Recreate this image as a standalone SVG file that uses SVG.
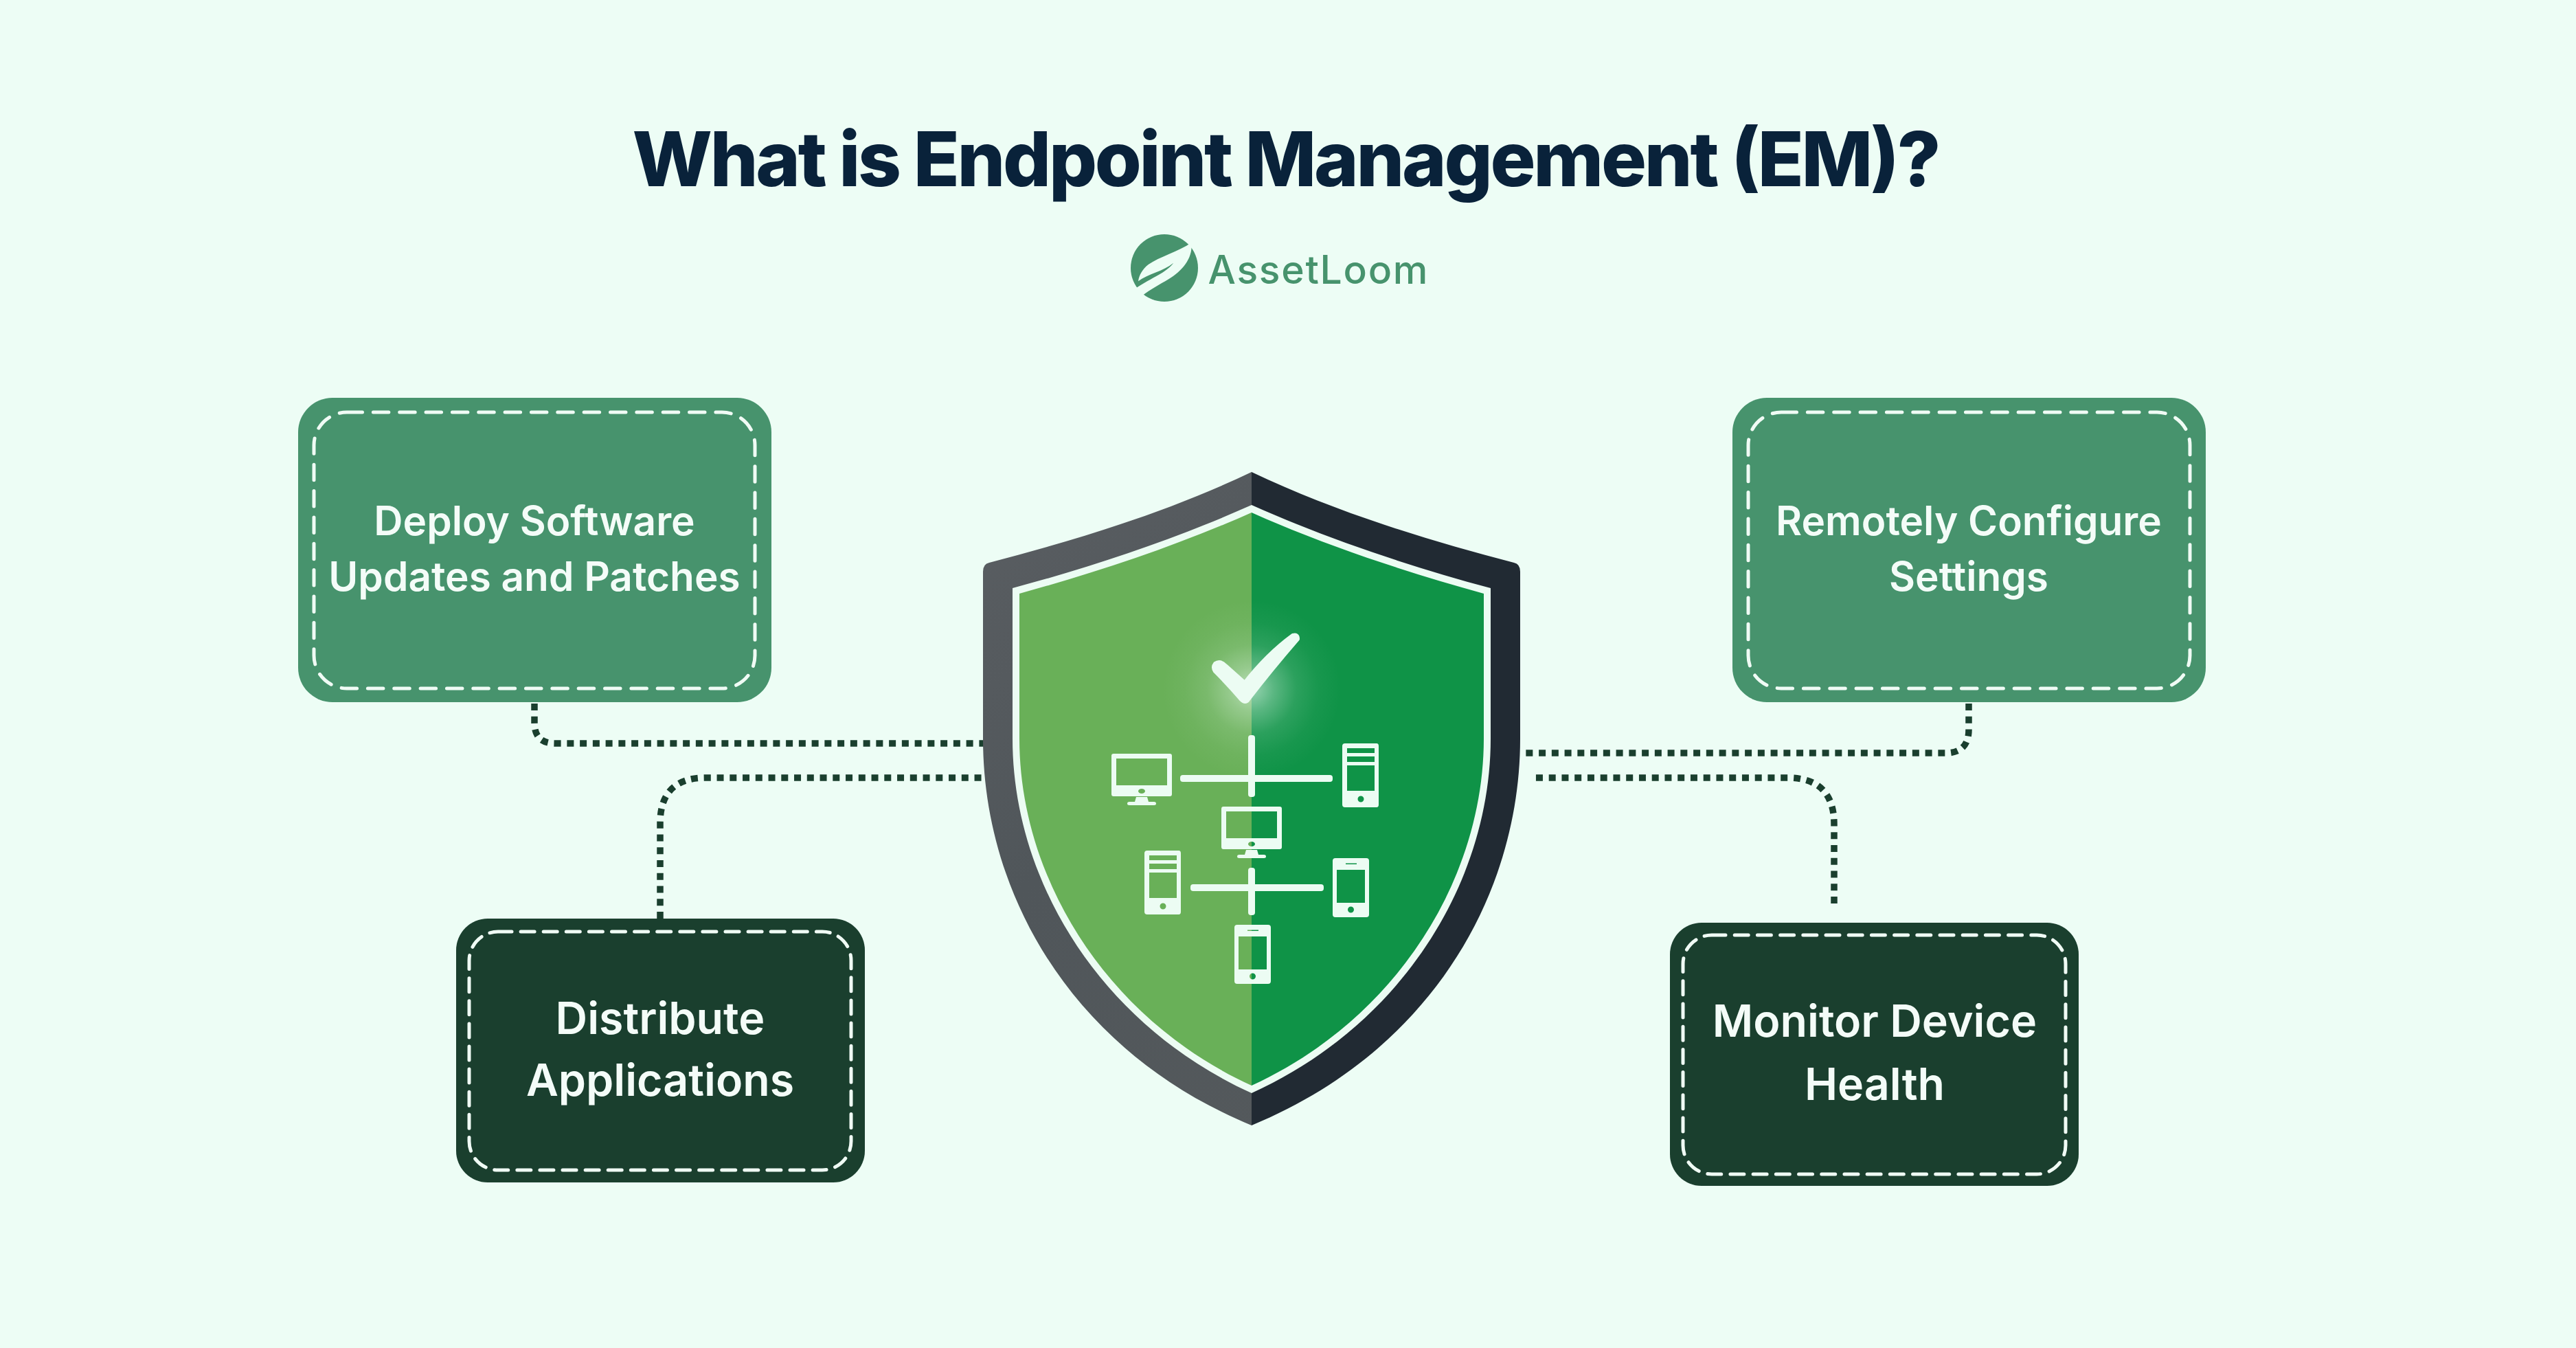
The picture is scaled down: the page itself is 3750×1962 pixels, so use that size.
<svg xmlns="http://www.w3.org/2000/svg" xmlns:xlink="http://www.w3.org/1999/xlink" width="3750" height="1962" viewBox="0 0 3750 1962">
<style>
text{font-family:Inter,"Liberation Sans",sans-serif;text-anchor:middle}
.title{font-size:110px;font-weight:800;fill:#09223a}
.brand{font-size:57px;font-weight:500;fill:#47936d}
.lbl{font-size:58.500px;font-weight:600;fill:#f4fcf8}
.lbl2{font-size:64.500px;font-weight:600;fill:#f4fcf8}
.box-g{fill:#47936d}
.box-d{fill:#1a3f2e}
.dash{fill:none;stroke:#f0fbf5;stroke-width:5;stroke-linecap:round}
.conn{fill:none;stroke:#1a3f2e;stroke-width:9.500;stroke-dasharray:10 8.750}
.icon{fill:#ecfcf3;fill-rule:evenodd}
</style>
<defs>
<linearGradient id="gl" x1="0" y1="0" x2="0.6" y2="1"><stop offset="0" stop-color="#5a5e62"/><stop offset="0.5" stop-color="#50565a"/><stop offset="1" stop-color="#54595c"/></linearGradient>
<radialGradient id="glow" cx="0.5" cy="0.5" r="0.5"><stop offset="0" stop-color="#ecfcf3" stop-opacity="0.62"/><stop offset="0.25" stop-color="#ecfcf3" stop-opacity="0.34"/><stop offset="0.5" stop-color="#ecfcf3" stop-opacity="0.13"/><stop offset="0.75" stop-color="#ecfcf3" stop-opacity="0.04"/><stop offset="1" stop-color="#ecfcf3" stop-opacity="0"/></radialGradient>
<clipPath id="cl"><rect x="1400" y="660" width="422" height="1000"/></clipPath>
<clipPath id="cr"><rect x="1822" y="660" width="422" height="1000"/></clipPath>
<path id="outer" d="M1822 687C1700 745 1570 785 1440 819Q1431 821 1431 832V1075C1431 1300 1560 1530 1822 1638C2084 1530 2213 1300 2213 1075V832Q2213 821 2204 819C2074 785 1944 745 1822 687Z"/>
<path id="inner" d="M1822 735C1710 785 1590 825 1474 856V1075C1474 1280 1600 1490 1822 1591C2044 1490 2170 1280 2170 1075V856C2054 825 1934 785 1822 735Z"/>
<path id="core" d="M1822 746C1712 795 1596 833 1484 864V1075C1484 1275 1608 1482 1822 1580C2036 1482 2160 1275 2160 1075V864C2048 833 1932 795 1822 746Z"/>
<path id="monitor" class="icon" d="M3 0H85Q88 0 88 3V59Q88 62 85 62H3Q0 62 0 59V3Q0 0 3 0ZM7 7V46H81V7ZM39 54.500a5 3.500 0 0 0 10 0a5 3.500 0 0 0 -10 0ZM36 63H52L54 70H62Q65 70 65 72.500Q65 75 62 75H26Q23 75 23 72.500Q23 70 26 70H34Z"/>
<path id="server" class="icon" d="M4 0H50Q53 0 53 4V89Q53 93 50 93H4Q0 93 0 89V4Q0 0 4 0ZM7 7V14H47V7ZM7 19V27H47V19ZM7 32V69H47V32ZM22.500 81a4.500 4.500 0 1 0 9 0a4.500 4.500 0 1 0 -9 0Z"/>
<path id="phone" class="icon" d="M4 0H49Q53 0 53 4V82Q53 86 49 86H4Q0 86 0 82V4Q0 0 4 0ZM6 17V65H47V17ZM19 7.500V9H35V7.500ZM22 75a4.500 4.500 0 1 0 9 0a4.500 4.500 0 1 0 -9 0Z"/>
</defs>
<rect id="background" width="3750" height="1962" fill="#edfdf5"/>
<text id="title" class="title" x="1873" y="271" textLength="1905" lengthAdjust="spacing">What is Endpoint Management (EM)?</text>
<g id="logo">
<circle cx="1695" cy="390" r="49" fill="#47936d"/>
<path fill="#edfdf5" d="M1735 352.700C1715 366.700 1688 373.300 1671.700 385C1663.300 391.700 1658.300 400 1657 409.300C1671.700 398.300 1693.300 395 1708.300 382.700C1698.300 396.700 1675 405 1655.700 418L1640 428L1661.700 429.300L1654.300 438.300C1665 426.700 1678.300 420 1691.700 411.700C1715 400 1731.700 383.300 1734.300 363.300Z"/>
<text class="brand" x="1918.500" y="413" textLength="320" lengthAdjust="spacing">AssetLoom</text>
</g>
<g id="connectors">
<path class="conn" d="M778 1024V1052Q778 1082 808 1082H1440"/>
<path class="conn" d="M961 1337V1198Q961 1132 1027 1132H1440"/>
<path class="conn" d="M2866 1024V1062Q2866 1096 2832 1096H2220"/>
<path class="conn" d="M2670 1315V1200Q2670 1132 2602 1132H2230"/>
</g>
<g id="shield">
<g clip-path="url(#cl)"><use xlink:href="#outer" fill="url(#gl)"/></g>
<g clip-path="url(#cr)"><use xlink:href="#outer" fill="#212a33"/></g>
<use xlink:href="#inner" fill="#ecfcf3"/>
<g clip-path="url(#cl)"><use xlink:href="#core" fill="#69b058"/></g>
<g clip-path="url(#cr)"><use xlink:href="#core" fill="#0f9347"/></g>
<circle cx="1822" cy="1003" r="130" fill="url(#glow)"/>
<path fill="#ecfcf3" stroke="#ecfcf3" stroke-width="6" stroke-linejoin="round" d="M1769 966Q1776 961 1784 969L1812 994Q1845 952 1882 925Q1889 923 1889 930Q1850 975 1817 1018Q1813 1024 1807 1018Q1790 998 1769 977Q1765 971 1769 966Z"/>
<rect class="icon" x="1817" y="1070" width="10" height="90" rx="4"/>
<rect class="icon" x="1718" y="1128" width="222" height="10" rx="4"/>
<rect class="icon" x="1817" y="1263" width="10" height="69" rx="4"/>
<rect class="icon" x="1733" y="1287" width="194" height="10" rx="4"/>
<use xlink:href="#monitor" transform="translate(1618 1097)"/>
<use xlink:href="#server" transform="translate(1954 1082)"/>
<use xlink:href="#monitor" transform="translate(1778 1174)"/>
<use xlink:href="#server" transform="translate(1666 1238)"/>
<use xlink:href="#phone" transform="translate(1940 1249)"/>
<use xlink:href="#phone" transform="translate(1797 1346)"/>
</g>
<g id="node-deploy">
<rect class="box-g" x="434" y="579" width="689" height="443" rx="50"/>
<rect class="dash" x="457" y="600" width="642" height="402" rx="48" stroke-dasharray="22.500 15.850"/>
<text class="lbl" x="778" y="779">Deploy Software</text>
<text class="lbl" x="778" y="860">Updates and Patches</text>
</g>
<g id="node-configure">
<rect class="box-g" x="2522" y="579" width="689" height="443" rx="50"/>
<rect class="dash" x="2545" y="600" width="643" height="402" rx="48" stroke-dasharray="22.500 15.850"/>
<text class="lbl" x="2866" y="779">Remotely Configure</text>
<text class="lbl" x="2866" y="860">Settings</text>
</g>
<g id="node-distribute">
<rect class="box-d" x="664" y="1337" width="595" height="384" rx="46"/>
<rect class="dash" x="683" y="1356" width="556" height="347" rx="42" stroke-dasharray="20 13.100"/>
<text class="lbl2" x="961" y="1505">Distribute</text>
<text class="lbl2" x="961" y="1595">Applications</text>
</g>
<g id="node-monitor">
<rect class="box-d" x="2431" y="1343" width="595" height="383" rx="46"/>
<rect class="dash" x="2450" y="1361" width="557" height="348" rx="42" stroke-dasharray="20 13.200"/>
<text class="lbl2" x="2729" y="1509">Monitor Device</text>
<text class="lbl2" x="2729" y="1601">Health</text>
</g>
</svg>
